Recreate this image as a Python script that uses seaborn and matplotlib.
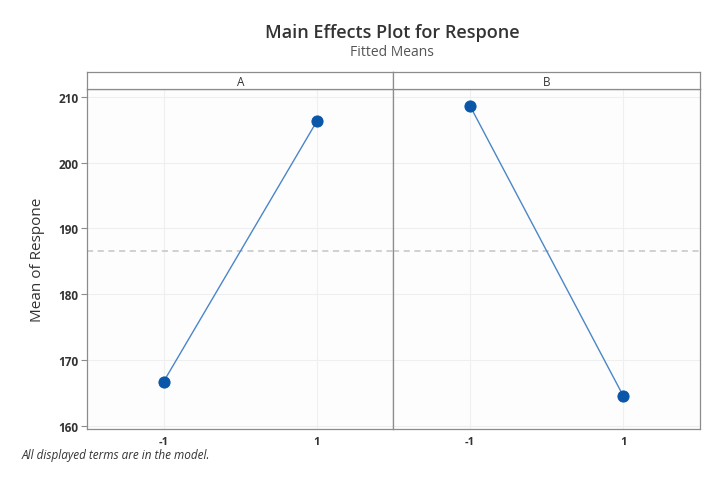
import pandas as pd
import matplotlib.pyplot as plt
import seaborn as sns

# data
factors = ["A", "B"]
levels = ["-1", "1"]
a_means = [166.7, 206.3]
b_means = [208.6, 164.5]
overall_mean = 186.5

df = pd.DataFrame({
    "Factor": ["A", "A", "B", "B"],
    "Level": [-1, 1, -1, 1],
    "Mean": a_means + b_means,
})

sns.set_style("white")
plt.rcParams["font.family"] = ["Open Sans", "DejaVu Sans"]

fig = plt.figure(figsize=(7.22, 4.89), dpi=100)
left, right, bottom, top = 87 / 722, 700 / 722, 59 / 489, 399 / 489
strip_h = 17 / 489
w = (right - left) / 2

edge = "#8c8c8c"
for i, f in enumerate(factors):
    ax = fig.add_axes([left + i * w, bottom, w, top - bottom])
    sub = df[df["Factor"] == f]
    ax.set_facecolor("#fdfdfd")
    for y in [160, 170, 180, 190, 200, 210]:
        ax.axhline(y, color="#efefef", lw=0.8, zorder=0)
    for x in [-1, 1]:
        ax.axvline(x, color="#efefef", lw=0.8, zorder=0)
    ax.axhline(overall_mean, color="#c4c4c4", lw=1.1, ls=(0, (4, 3)), zorder=1)
    sns.lineplot(data=sub, x="Level", y="Mean", ax=ax, color="#4a86c8", lw=1.0,
                 marker="o", markersize=8, markerfacecolor="#0a56a8",
                 markeredgecolor="#0a56a8", zorder=3)
    ax.set_xlim(-2, 2)
    ax.set_ylim(159.5, 211.2)
    ax.set_xticks([-1, 1])
    ax.set_xticklabels(levels, fontsize=8, color="#333333", fontweight="bold")
    ax.set_xlabel("")
    ax.tick_params(axis="x", length=4, color=edge, width=0.8, pad=1)
    if i == 0:
        ax.set_yticks([160, 170, 180, 190, 200, 210])
        ax.set_yticklabels([160, 170, 180, 190, 200, 210], fontsize=8.5,
                           color="#333333", fontweight="bold")
        ax.tick_params(axis="y", length=4, color=edge, width=0.8, pad=2, left=True)
        ax.set_ylabel("Mean of Respone", fontsize=11, color="#333333", labelpad=10)
    else:
        ax.set_yticks([])
        ax.set_ylabel("")
    for s in ax.spines.values():
        s.set_color(edge)
        s.set_linewidth(0.9)

    sax = fig.add_axes([left + i * w, top, w, strip_h])
    sax.set_xticks([])
    sax.set_yticks([])
    sax.set_facecolor("white")
    for s in sax.spines.values():
        s.set_color(edge)
        s.set_linewidth(0.9)
    sax.text(0.5, 0.45, f, ha="center", va="center", fontsize=8.5, color="#333333")

fig.text(392 / 722, 1 - 33 / 489, "Main Effects Plot for Respone", ha="center",
         va="center", fontsize=13, fontweight="semibold", color="#333333")
fig.text(392 / 722, 1 - 53 / 489, "Fitted Means", ha="center", va="center",
         fontsize=10, color="#555555")
fig.text(22 / 722, 1 - 456 / 489, "All displayed terms are in the model.",
         ha="left", va="center", fontsize=8.5, style="italic", color="#333333")

fig.savefig("out.png", dpi=100)
